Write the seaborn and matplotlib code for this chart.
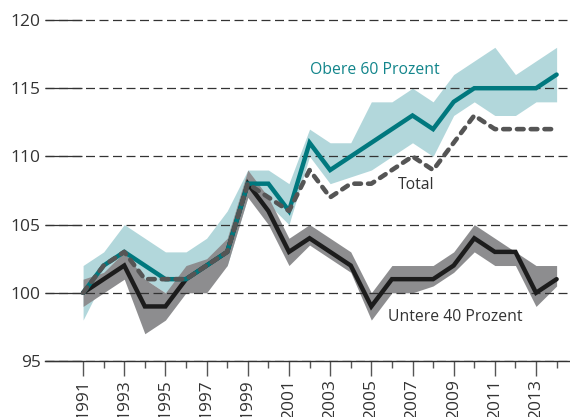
import numpy as np
import pandas as pd
import matplotlib
matplotlib.use("Agg")
import matplotlib.pyplot as plt
import seaborn as sns

# ---- data ----
years = list(range(1991, 2015))
obere = [100, 102, 103, 102, 101, 101, 102, 103, 108, 108, 106, 111, 109, 110, 111, 112, 113, 112, 114, 115, 115, 115, 115, 116]
total = [100, 102, 103, 101, 101, 101, 102, 103, 108, 107, 106, 109, 107, 108, 108, 109, 110, 109, 111, 113, 112, 112, 112, 112]
untere = [100, 101, 102, 99, 99, 101, 102, 103, 108, 106, 103, 104, 103, 102, 99, 101, 101, 101, 102, 104, 103, 103, 100, 101]
obere_lo = [98, 101, 101, 101, 100, 100, 101, 102, 107, 106.5, 105, 110, 108, 108.5, 109, 110, 111, 110, 113, 114, 113, 113, 114, 114]
obere_hi = [102, 103, 105, 104, 103, 103, 104, 106, 109, 109, 108, 112, 111, 111, 114, 114, 115, 114, 116, 117, 118, 116, 117, 118]
untere_lo = [99, 100, 101, 97, 98, 100, 100, 102, 107, 105, 102, 103.5, 102.5, 101.5, 98, 100, 100, 100.5, 101.5, 103, 102, 102, 99, 100.5]
untere_hi = [101, 101.5, 103, 101, 100, 102, 102.5, 104, 109, 107, 104, 105, 104, 103, 100, 102, 102, 102, 103, 105, 104, 103, 102, 102]
yticks = [95, 100, 105, 110, 115, 120]
label_obere = "Obere 60 Prozent"
label_total = "Total"
label_untere = "Untere 40 Prozent"

df = pd.DataFrame({"Jahr": years, "Obere": obere, "Total": total, "Untere": untere,
                   "Obere_lo": obere_lo, "Obere_hi": obere_hi,
                   "Untere_lo": untere_lo, "Untere_hi": untere_hi})

sns.set_theme(style="white")
plt.rcParams["font.family"] = ["Open Sans", "DejaVu Sans"]

W, H = 570, 417
fig = plt.figure(figsize=(W / 100, H / 100), dpi=100)
y_top_px = 20 - 0.3 * 13.6
ax = fig.add_axes([45 / W, (H - 361) / H, (570 - 45) / W, (361 - y_top_px) / H])

teal = "#00787e"
teal_light = "#b2d7db"
gray_band = "#8d8d8f"

ax.fill_between(df["Jahr"], df["Obere_lo"], df["Obere_hi"], color=teal_light, lw=0, zorder=0.2)
ax.fill_between(df["Jahr"], df["Untere_lo"], df["Untere_hi"], color=gray_band, lw=0, zorder=0.3)

sns.lineplot(data=df, x="Jahr", y="Untere", color="#1c1c1c", lw=3.2, ax=ax, zorder=3,
             solid_joinstyle="miter", solid_capstyle="round")
sns.lineplot(data=df, x="Jahr", y="Obere", color=teal, lw=3.2, ax=ax, zorder=4,
             solid_joinstyle="miter", solid_capstyle="round")
sns.lineplot(data=df, x="Jahr", y="Total", color="#555555", lw=3.3, ax=ax, zorder=5,
             linestyle=(0, (1.45, 1.55)), dash_capstyle="round")

ax.set_xlim(1989.15, 2014.65)
ax.set_ylim(95, 120.3)
ax.set_xlabel("")
ax.set_ylabel("")

# y axis: solid inward ticks + dashed grid
ax.set_yticks(yticks)
ax.set_yticklabels([str(v) for v in yticks])
ax.tick_params(axis="y", direction="in", length=26.6, width=0.9, color="#333333",
               labelsize=12.5, labelcolor="#333333", pad=3, left=True)
ax.set_axisbelow(True)
ax.yaxis.grid(True, color="#333333", lw=0.9, linestyle=(0, (7.2, 3.6)))
ax.xaxis.grid(False)

# x axis ticks
ax.set_xticks([y for y in years if y % 2 == 1])
ax.set_xticklabels([str(y) for y in years if y % 2 == 1], rotation=90)
ax.set_xticks([y for y in years if y % 2 == 0], minor=True)
ax.tick_params(axis="x", which="major", direction="out", length=11, width=1, color="#555555",
               labelsize=12.5, labelcolor="#333333", pad=2, bottom=True)
ax.tick_params(axis="x", which="minor", direction="out", length=5, width=1, color="#555555", bottom=True)

for s in ["top", "right", "left"]:
    ax.spines[s].set_visible(False)
ax.spines["bottom"].set_color("#333333")
ax.spines["bottom"].set_linewidth(1)

ax.text(2005.17, 116.3, label_obere, color="#12858b", fontsize=11.3, ha="center", va="center")
ax.text(2007.16, 107.9, label_total, color="#333333", fontsize=11.3, ha="center", va="center")
ax.text(2009.1, 98.25, label_untere, color="#333333", fontsize=11.3, ha="center", va="center")

fig.savefig("out.png", dpi=100)
